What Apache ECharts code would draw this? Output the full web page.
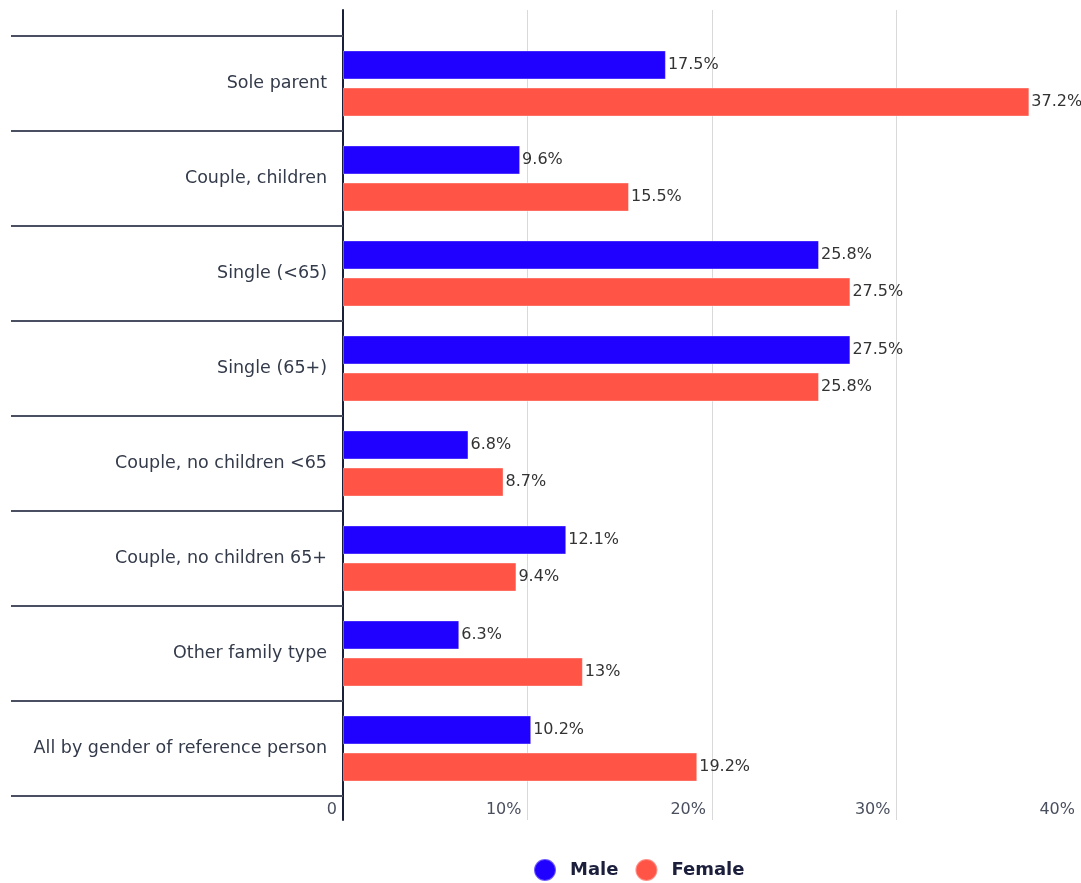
<!DOCTYPE html>
<html>
<head>
<meta charset="utf-8">
<script src="https://cdn.jsdelivr.net/npm/echarts@6/dist/echarts.min.js"></script>
<style>
  html, body { margin: 0; padding: 0; background: #ffffff; }
  #chart { width: 1081px; height: 883px; }
</style>
</head>
<body>
<div id="chart"></div>
<script>
// Household types, listed top to bottom
const categories = [
  'Sole parent',
  'Couple, children',
  'Single (<65)',
  'Single (65+)',
  'Couple, no children <65',
  'Couple, no children 65+',
  'Other family type',
  'All by gender of reference person'
];
// Share (%) by gender of the reference person
const maleValues = [17.5, 9.6, 25.8, 27.5, 6.8, 12.1, 6.3, 10.2];
const femaleValues = [37.2, 15.5, 27.5, 25.8, 8.7, 9.4, 13, 19.2];
// Value axis ticks
const xTicks = [0, 10, 20, 30, 40];

const FONT = '"DejaVu Sans", "Noto Sans", sans-serif';
const chart = echarts.init(document.getElementById('chart'), null, { renderer: 'canvas' });

const valueLabel = {
  show: true,
  position: 'right',
  distance: 2,
  color: '#333333',
  fontFamily: FONT,
  fontSize: 16,
  padding: [0, 0, 3, 0],
  formatter: p => p.value + '%'
};

chart.setOption({
  animation: false,
  textStyle: { fontFamily: FONT },
  legend: {
    top: 858,
    left: 533,
    padding: 0,
    icon: 'circle',
    itemWidth: 22,
    itemHeight: 22,
    itemGap: 16,
    textStyle: { fontSize: 18, fontWeight: 600, color: '#1b1f3b', fontFamily: FONT, padding: [0, 0, 0, 9] },
    data: ['Male', 'Female']
  },
  grid: [
    // outer frame: vertical grid lines and the category axis line
    { left: 343, right: 0, top: 10, bottom: 63, containLabel: false },
    // bars and category bands
    { left: 343, right: 0, top: 36, bottom: 87, containLabel: false }
  ],
  xAxis: [
    {
      gridIndex: 0, type: 'value', min: xTicks[0], max: xTicks[xTicks.length - 1], interval: 10,
      axisLine: { show: false }, axisTick: { show: false }, axisLabel: { show: false },
      splitLine: { show: true, lineStyle: { color: '#d9d9d9', width: 1 } }
    },
    {
      gridIndex: 1, type: 'value', min: xTicks[0], max: xTicks[xTicks.length - 1], interval: 10,
      axisLine: { show: false }, axisTick: { show: false }, splitLine: { show: false },
      axisLabel: {
        show: true, margin: 6, align: 'right', padding: [0, 6, 0, 0],
        color: '#4a4f5e', fontSize: 16, fontFamily: FONT,
        formatter: v => v === 0 ? '0' : v + '%'
      }
    }
  ],
  yAxis: [
    {
      gridIndex: 0, type: 'value', min: 0, max: 1,
      axisLine: { show: true, lineStyle: { color: '#1a1f3a', width: 2 } },
      axisTick: { show: false }, axisLabel: { show: false }, splitLine: { show: false }
    },
    {
      gridIndex: 1, type: 'category', data: categories, inverse: true,
      axisLine: { show: false },
      axisTick: { show: true, length: 332, lineStyle: { color: '#4a5062', width: 2 } },
      axisLabel: { margin: 16, color: '#333a4a', fontSize: 17.5, fontFamily: FONT, padding: [0, 0, 3, 0] },
      splitLine: { show: false }
    }
  ],
  series: [
    {
      name: 'Male', type: 'bar', xAxisIndex: 1, yAxisIndex: 1,
      data: maleValues, barWidth: 29, barGap: '28%',
      itemStyle: { color: '#2000ff', borderColor: 'rgba(255,255,255,0.35)', borderWidth: 1 },
      label: valueLabel
    },
    {
      name: 'Female', type: 'bar', xAxisIndex: 1, yAxisIndex: 1,
      data: femaleValues, barWidth: 29, barGap: '28%',
      itemStyle: { color: '#ff5446', borderColor: 'rgba(255,255,255,0.35)', borderWidth: 1 },
      label: valueLabel
    }
  ]
});
</script>
</body>
</html>
